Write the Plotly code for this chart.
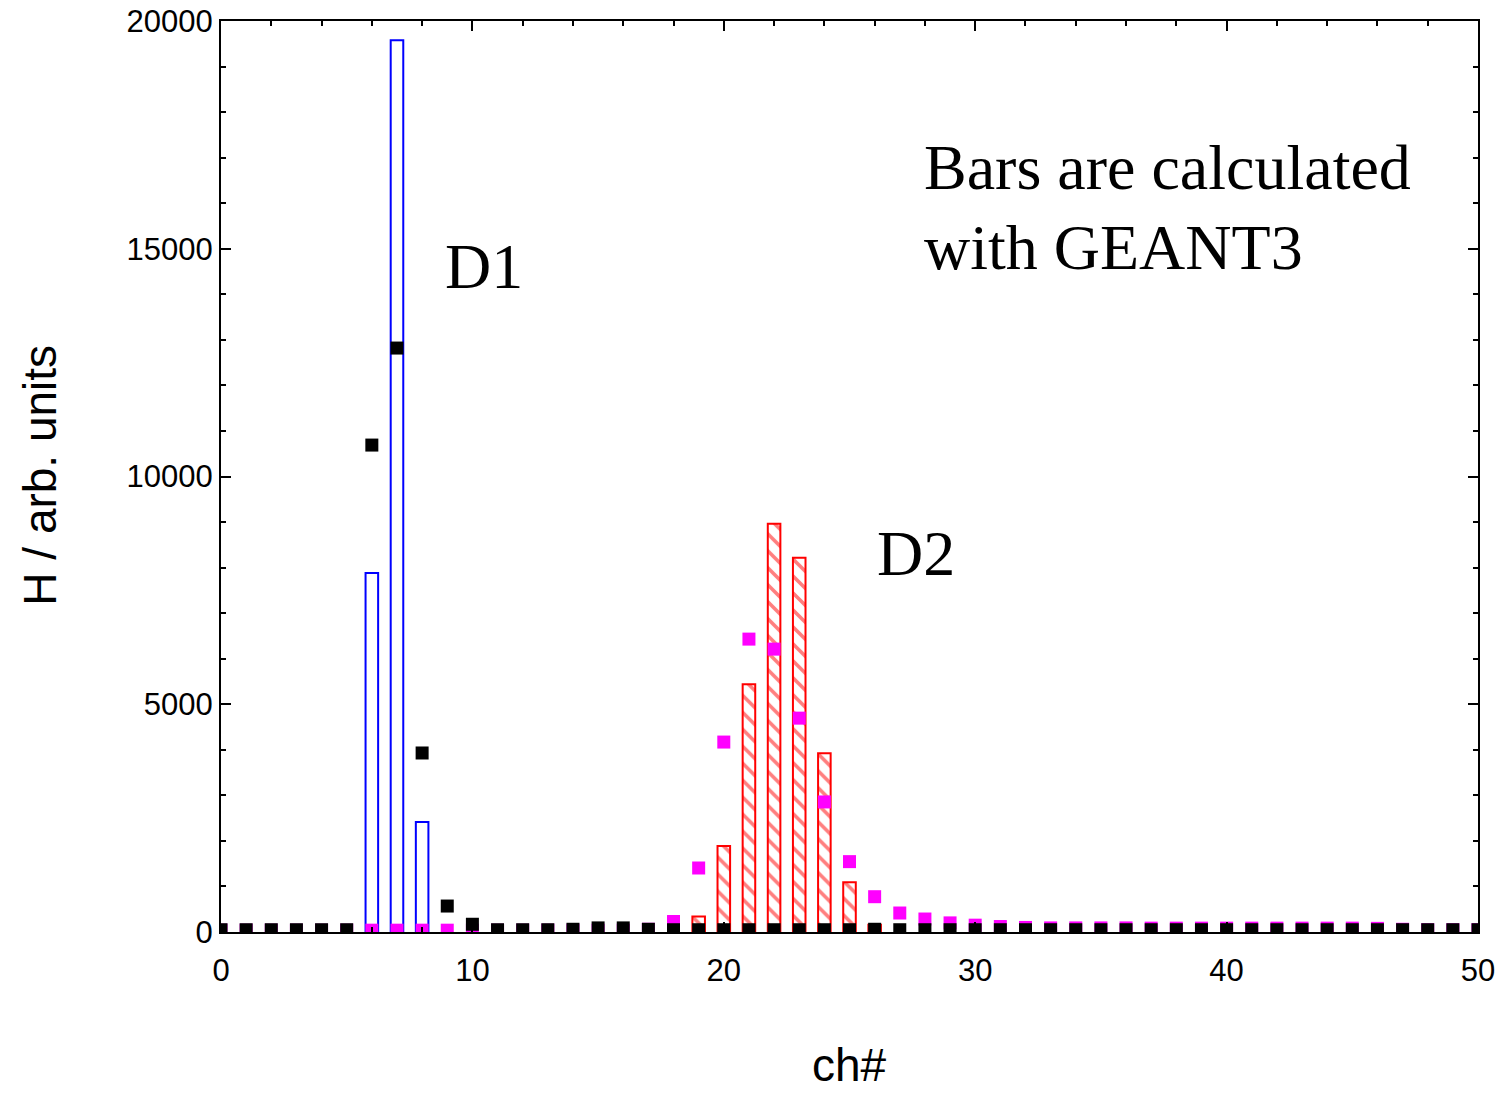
import plotly.graph_objects as go

# ---- data ----
channels = list(range(0, 51))

d1_bar_ch = [6, 7, 8]
d1_bar_val = [7880, 19580, 2415]

d2_bar_ch = [19, 20, 21, 22, 23, 24, 25, 26]
d2_bar_val = [340, 1890, 5440, 8960, 8215, 3925, 1090, 160]

black_pts = [50, 50, 50, 50, 50, 50, 10690, 12820, 3930, 570, 170,
             50, 50, 50, 60, 90, 90, 60, 50, 50, 50,
             50, 50, 50, 50, 50, 60, 50, 50, 50, 50,
             50, 50, 50, 50, 50, 50, 50, 50, 50, 50,
             50, 50, 50, 50, 50, 50, 50, 50, 50, 50]

magenta_pts = [40, 40, 40, 40, 40, 40, 40, 40, 40, 40, 40,
               40, 40, 40, 40, 40, 40, 60, 230, 1405, 4170,
               6430, 6210, 4695, 2855, 1545, 775, 417, 285, 200, 150,
               120, 100, 90, 90, 90, 90, 85, 85, 85, 85,
               85, 85, 85, 85, 85, 80, 60, 50, 50, 50]

x_ticks = [0, 10, 20, 30, 40, 50]
y_ticks = [0, 5000, 10000, 15000, 20000]

fig = go.Figure()

fig.add_trace(go.Bar(
    x=d1_bar_ch, y=d1_bar_val, width=0.5,
    marker=dict(color="white", line=dict(color="#0000ff", width=2)),
    showlegend=False,
))
fig.add_trace(go.Bar(
    x=d2_bar_ch, y=d2_bar_val, width=0.5,
    marker=dict(color="white", line=dict(color="#ff0000", width=2),
                pattern=dict(shape="\\", fgcolor="#ff0000", bgcolor="white",
                             size=12, solidity=0.3, fillmode="overlay")),
    showlegend=False,
))
fig.add_trace(go.Scatter(
    x=channels, y=magenta_pts, mode="markers",
    marker=dict(symbol="square", size=13, color="#ff00ff"),
    cliponaxis=True, showlegend=False,
))
fig.add_trace(go.Scatter(
    x=channels, y=black_pts, mode="markers",
    marker=dict(symbol="square", size=13, color="black"),
    cliponaxis=True, showlegend=False,
))

serif = "Liberation Serif, Times New Roman, serif"
sans = "Liberation Sans, Arial, sans-serif"

annotations = [
    dict(x=27.88, y=16773, text="Bars are calculated", xanchor="left", yanchor="middle",
         showarrow=False, font=dict(family=serif, size=64, color="black")),
    dict(x=27.88, y=15038, text="with GEANT3", xanchor="left", yanchor="middle",
         showarrow=False, font=dict(family=serif, size=64, color="black")),
    dict(x=8.83, y=14621, text="D1", xanchor="left", yanchor="middle",
         showarrow=False, font=dict(family=serif, size=64, color="black")),
    dict(x=26.01, y=8320, text="D2", xanchor="left", yanchor="middle",
         showarrow=False, font=dict(family=serif, size=64, color="black")),
    dict(xref="paper", yref="paper", x=-0.144, y=0.502, text="H / arb. units",
         textangle=-90, xanchor="center", yanchor="middle", showarrow=False,
         font=dict(family=sans, size=46, color="black")),
    dict(xref="paper", yref="paper", x=0.5, y=-0.1460, text="ch#",
         xanchor="center", yanchor="middle", showarrow=False,
         font=dict(family=sans, size=46, color="black")),
]

fig.update_layout(
    width=1501, height=1094, autosize=False,
    margin=dict(l=221, r=23, t=21, b=162),
    paper_bgcolor="white", plot_bgcolor="white",
    barmode="overlay",
    annotations=annotations,
    xaxis=dict(range=[0, 50], tickvals=x_ticks, ticktext=[str(v) for v in x_ticks],
               automargin=False,
               ticks="inside", ticklen=10, tickwidth=2, tickcolor="black",
               ticklabelstandoff=10,
               showline=True, linecolor="black", linewidth=2, mirror="allticks",
               showgrid=False, zeroline=False,
               minor=dict(dtick=2, tick0=0, ticks="inside", ticklen=5, tickwidth=2,
                          tickcolor="black", showgrid=False),
               tickfont=dict(family=sans, size=31, color="black")),
    yaxis=dict(range=[0, 20000], tickvals=y_ticks, ticktext=[str(v) for v in y_ticks],
               automargin=False,
               ticks="inside", ticklen=10, tickwidth=2, tickcolor="black",
               showline=True, linecolor="black", linewidth=2, mirror="allticks",
               showgrid=False, zeroline=False,
               minor=dict(dtick=1000, tick0=0, ticks="inside", ticklen=5, tickwidth=2,
                          tickcolor="black", showgrid=False),
               tickfont=dict(family=sans, size=31, color="black")),
)

fig.write_html("out.html",
               config={"displayModeBar": False},
               post_script="document.body.style.margin='0px';document.body.style.overflow='hidden';")
